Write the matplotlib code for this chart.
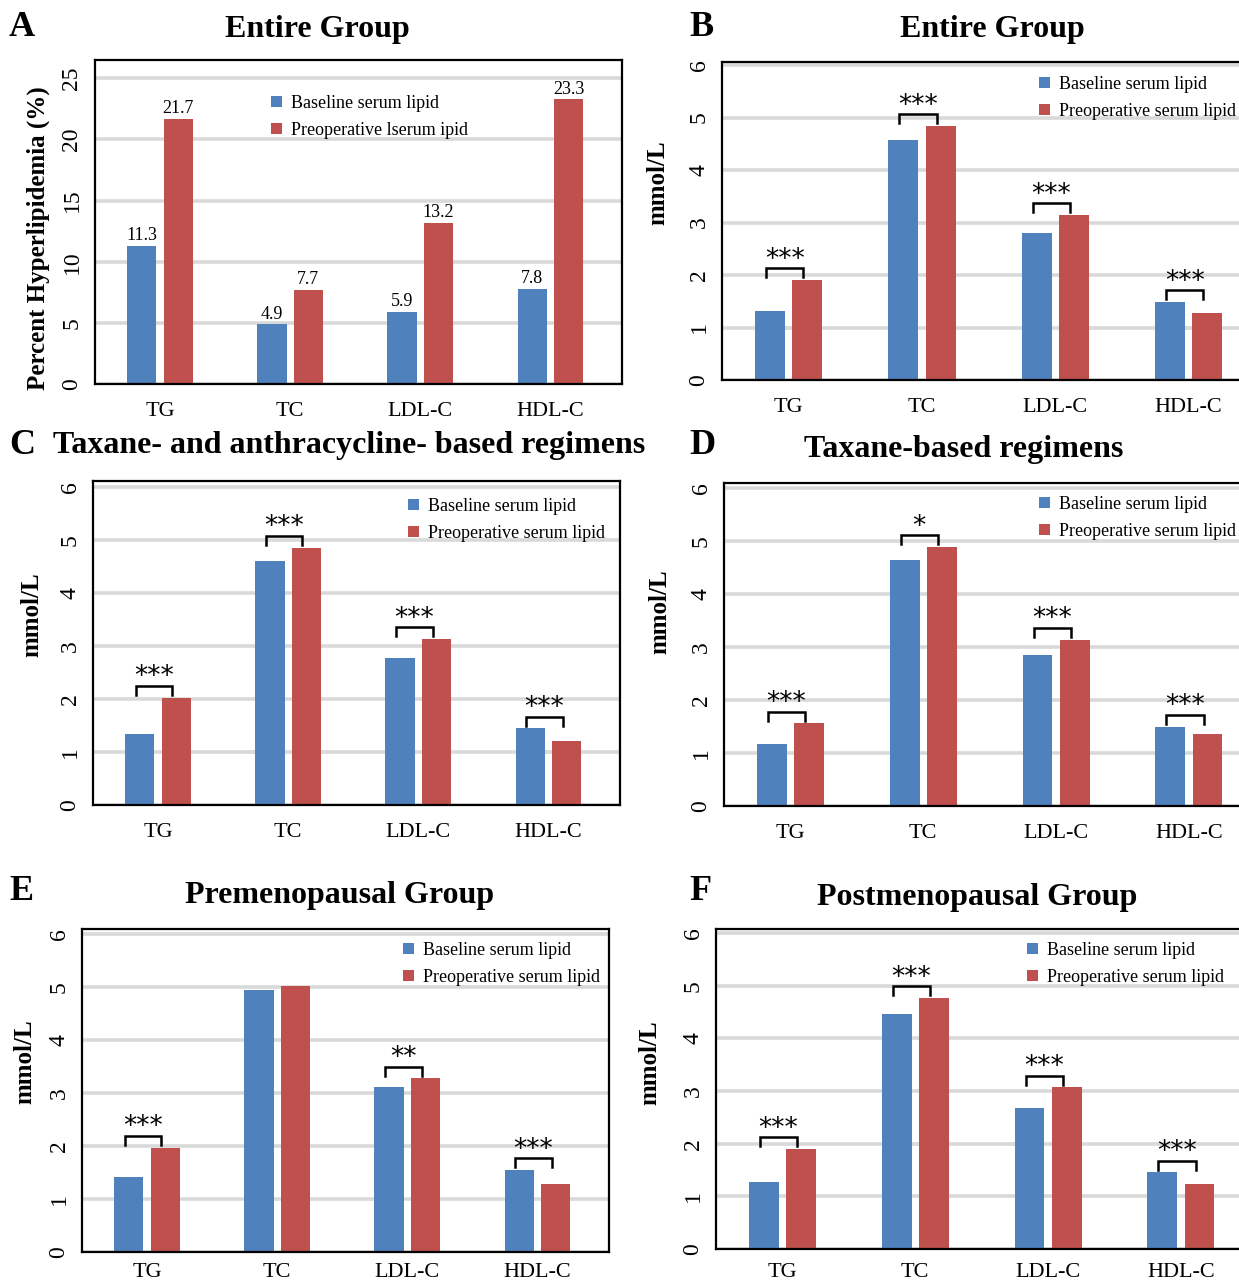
import matplotlib
matplotlib.use("Agg")
import matplotlib.pyplot as plt
import numpy as np

# data
categories = ['TG', 'TC', 'LDL-C', 'HDL-C']

a_base = [11.3, 4.9, 5.9, 7.8]
a_preop = [21.7, 7.7, 13.2, 23.3]

b_base = [1.31, 4.57, 2.80, 1.49]
b_preop = [1.91, 4.84, 3.15, 1.27]
b_sig = ['***', '***', '***', '***']

c_base = [1.35, 4.60, 2.77, 1.45]
c_preop = [2.03, 4.86, 3.14, 1.21]
c_sig = ['***', '***', '***', '***']

d_base = [1.18, 4.64, 2.86, 1.50]
d_preop = [1.56, 4.89, 3.14, 1.36]
d_sig = ['***', '*', '***', '***']

e_base = [1.41, 4.94, 3.11, 1.55]
e_preop = [1.97, 5.03, 3.28, 1.28]
e_sig = ['***', '', '**', '***']

f_base = [1.28, 4.46, 2.68, 1.46]
f_preop = [1.90, 4.77, 3.07, 1.24]
f_sig = ['***', '***', '***', '***']

W, H = 1239, 1285
BLUE = '#4f81bd'
RED = '#c0504d'
SERIF = 'Liberation Serif'

plt.rcParams['font.family'] = SERIF

fig = plt.figure(figsize=(W / 100, H / 100), dpi=100)


def px(x, y):
    return x / W, 1 - y / H


def make_axes(l, t, r, b):
    return fig.add_axes([l / W, 1 - b / H, (r - l) / W, (b - t) / H])


def panel(rect, base, preop, ymax, yticks, ylabel, ylab_xy, leg_xy,
          preop_name='Preoperative serum lipid', sig=None, values=False,
          xpad=13):
    ax = make_axes(*rect)
    x = np.arange(len(categories))
    w = 0.225
    off = 0.14
    ax.bar(x - off, base, w, color=BLUE, zorder=3, label='Baseline serum lipid')
    ax.bar(x + off, preop, w, color=RED, zorder=3, label=preop_name)
    ax.set_xlim(-0.5, 3.55)
    ax.set_ylim(0, ymax)
    ax.set_yticks(yticks)
    for t in yticks:
        ax.axhline(t, color='#d9d9d9', lw=2.6, zorder=1)
    ax.set_xticks(x)
    ax.set_xticklabels(categories, fontsize=16)
    ax.tick_params(axis='x', length=0, pad=xpad)
    ax.tick_params(axis='y', length=0, pad=9, labelsize=17, labelrotation=90)
    for lab in ax.get_yticklabels():
        lab.set_verticalalignment('center')
    for s in ax.spines.values():
        s.set_linewidth(1.6)
        s.set_color('black')
        s.set_zorder(4)
    fig.text(*px(*ylab_xy), ylabel, rotation=90, fontsize=18,
             fontweight='bold', ha='center', va='center')
    ax.legend(loc='upper left', bbox_to_anchor=px(*leg_xy),
              bbox_transform=fig.transFigure, frameon=False,
              fontsize=13, handlelength=0.6, handleheight=0.6,
              handletextpad=0.5, labelspacing=0.55, borderpad=0)
    if values:
        for i in range(len(categories)):
            ax.text(x[i] - off, base[i] + 0.12, f'{base[i]:.1f}', ha='center',
                    va='bottom', fontsize=13)
            ax.text(x[i] + off, preop[i] + 0.12, f'{preop[i]:.1f}', ha='center',
                    va='bottom', fontsize=13)
    if sig:
        for i, s in enumerate(sig):
            if not s:
                continue
            top = max(base[i], preop[i]) + 0.22
            x0 = x[i] - off - 0.03
            x1 = x[i] + off - 0.03
            ax.plot([x0, x0, x1, x1], [top - 0.17, top, top, top - 0.17],
                    color='black', lw=1.8, zorder=5, solid_joinstyle='miter')
            ax.text((x0 + x1) / 2, top + 0.03, s, ha='center', va='baseline',
                    fontsize=19, family='DejaVu Sans', zorder=5)
    return ax


def titles(letter, lxy, title, txy):
    fig.text(*px(*lxy), letter, fontsize=26, fontweight='bold',
             ha='center', va='center')
    fig.text(*px(*txy), title, fontsize=23, fontweight='bold',
             ha='center', va='center')


mmol_ticks = [0, 1, 2, 3, 4, 5, 6]

panel((95, 60, 622, 384), a_base, a_preop, 26.5, [0, 5, 10, 15, 20, 25],
      'Percent Hyperlipidemia (%)', (38, 238), (262, 86),
      preop_name='Preoperative lserum ipid', values=True)
titles('A', (22, 28), 'Entire Group', (317, 30))

panel((722, 62, 1262, 380), b_base, b_preop, 6.06, mmol_ticks,
      'mmol/L', (658, 183), (1030, 67), sig=b_sig)
titles('B', (702, 28), 'Entire Group', (992, 30))

panel((93, 481, 620, 805), c_base, c_preop, 6.12, mmol_ticks,
      'mmol/L', (32, 615), (399, 489), sig=c_sig)
titles('C', (22, 446), 'Taxane- and anthracycline- based regimens', (349, 446))

panel((724, 483, 1262, 806), d_base, d_preop, 6.1, mmol_ticks,
      'mmol/L', (660, 612), (1030, 487), sig=d_sig)
titles('D', (702, 446), 'Taxane-based regimens', (964, 449))

panel((82, 929, 609, 1252), e_base, e_preop, 6.1, mmol_ticks,
      'mmol/L', (25, 1062), (394, 933), sig=e_sig, xpad=8)
titles('E', (22, 891), 'Premenopausal Group', (340, 895))

panel((716, 929, 1254, 1249), f_base, f_preop, 6.08, mmol_ticks,
      'mmol/L', (650, 1063), (1018, 933), sig=f_sig, xpad=10)
titles('F', (700, 891), 'Postmenopausal Group', (977, 897))

fig.savefig('out.png', dpi=100)
